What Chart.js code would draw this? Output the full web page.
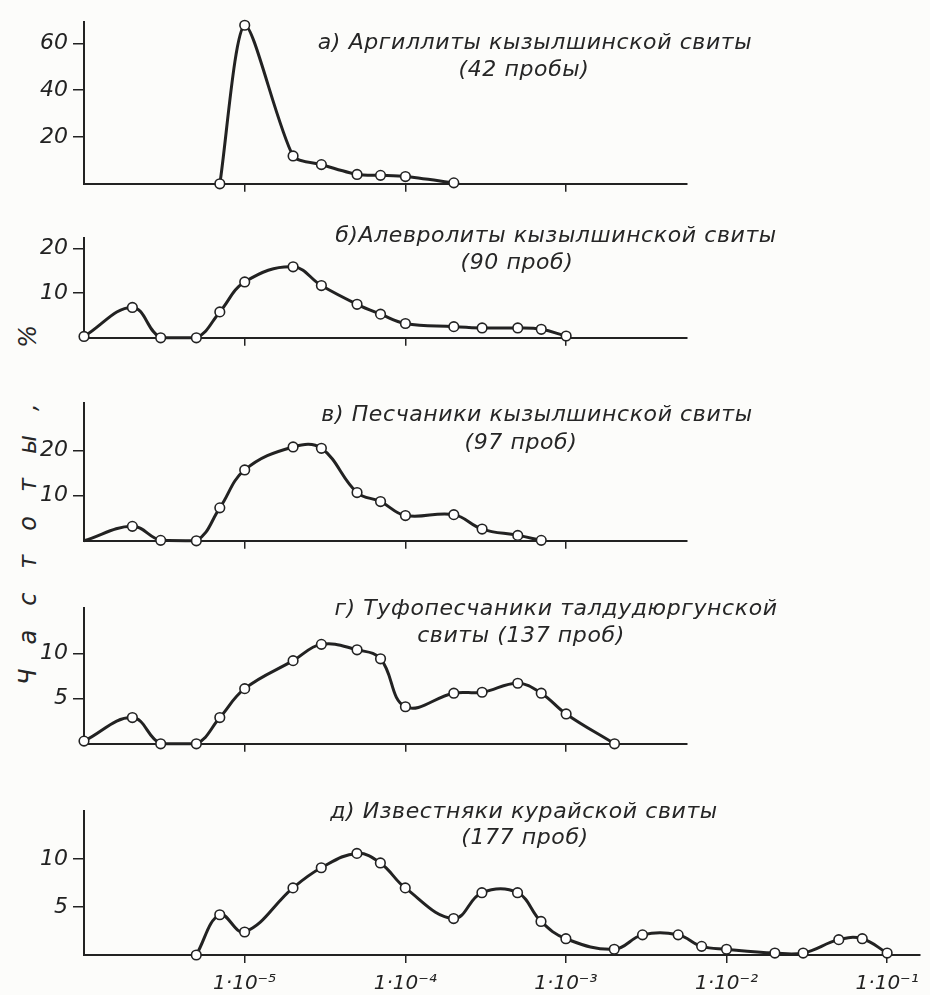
<!DOCTYPE html>
<html lang="ru">
<head>
<meta charset="utf-8" />
<title>Частоты распределения</title>
<script src="https://cdn.jsdelivr.net/npm/chart.js@4.4.0/dist/chart.umd.min.js"></script>
<style>
  html, body { margin: 0; padding: 0; background: #fcfcfa; }
  #page {
    position: relative; width: 930px; height: 995px; overflow: hidden;
    font-family: "DejaVu Sans", sans-serif; font-style: italic; color: #262626;
  }
  canvas { position: absolute; left: 0; }
  .ttl {
    position: absolute; white-space: nowrap; transform: translate(-50%, -50%);
    font-size: 22px; letter-spacing: 0.6px;
  }
  #ylab {
    position: absolute; left: 28px; top: 493px; white-space: nowrap;
    transform: translate(-50%, -50%) rotate(-90deg);
    font-size: 24px; letter-spacing: 24px;
  }
</style>
</head>
<body>
<div id="page">
  <div id="ylab">Частоты, %</div>
</div>

<script>
  // grain sizes (x, log axis) and frequencies in % for each panel
  const sizesA = [7e-6, 1e-5, 2e-5, 3e-5, 5e-5, 7e-5, 1e-4, 2e-4];
  const freqA  = [0, 67.7, 11.9, 8.2, 4.0, 3.6, 3.1, 0.4];

  const sizesB = [1e-6, 2e-6, 3e-6, 5e-6, 7e-6, 1e-5, 2e-5, 3e-5, 5e-5, 7e-5, 1e-4, 2e-4, 3e-4, 5e-4, 7e-4, 1e-3];
  const freqB  = [0.3, 6.8, 0, 0, 5.8, 12.5, 15.9, 11.7, 7.5, 5.3, 3.2, 2.5, 2.2, 2.2, 1.9, 0.4];

  const sizesV = [1e-6, 2e-6, 3e-6, 5e-6, 7e-6, 1e-5, 2e-5, 3e-5, 5e-5, 7e-5, 1e-4, 2e-4, 3e-4, 5e-4, 7e-4];
  const freqV  = [0, 3.2, 0.1, 0, 7.3, 15.7, 20.8, 20.5, 10.7, 8.7, 5.6, 5.8, 2.6, 1.2, 0.1];

  const sizesG = [1e-6, 2e-6, 3e-6, 5e-6, 7e-6, 1e-5, 2e-5, 3e-5, 5e-5, 7e-5, 1e-4, 2e-4, 3e-4, 5e-4, 7e-4, 1e-3, 2e-3];
  const freqG  = [0.3, 2.9, 0, 0, 2.9, 6.1, 9.2, 11.0, 10.4, 9.4, 4.1, 5.6, 5.7, 6.7, 5.6, 3.3, 0];

  const sizesD = [5e-6, 7e-6, 1e-5, 2e-5, 3e-5, 5e-5, 7e-5, 1e-4, 2e-4, 3e-4, 5e-4, 7e-4, 1e-3, 2e-3, 3e-3, 5e-3, 7e-3, 1e-2, 2e-2, 3e-2, 5e-2, 7e-2, 1e-1];
  const freqD  = [0, 4.2, 2.4, 7.0, 9.1, 10.6, 9.6, 7.0, 3.8, 6.5, 6.5, 3.5, 1.7, 0.6, 2.1, 2.1, 0.9, 0.6, 0.2, 0.2, 1.6, 1.7, 0.2];

  const xTickValues = [1e-5, 1e-4, 1e-3, 1e-2, 1e-1];
  const xTickLabels = ['1·10⁻⁵', '1·10⁻⁴', '1·10⁻³', '1·10⁻²', '1·10⁻¹'];

  const yTicksA = [20, 40, 60];
  const yTicksB = [10, 20];
  const yTicksV = [10, 20];
  const yTicksG = [5, 10];
  const yTicksD = [5, 10];

  const titlesA = ['а) Аргиллиты кызылшинской свиты', '(42 пробы)'];
  const titlesB = ['б)Алевролиты кызылшинской свиты', '(90 проб)'];
  const titlesV = ['в) Песчаники кызылшинской свиты', '(97 проб)'];
  const titlesG = ['г) Туфопесчаники талдудюргунской', 'свиты (137 проб)'];
  const titlesD = ['д) Известняки курайской свиты', '(177 проб)'];

  const INK = '#222';
  const FONT = '"DejaVu Sans", sans-serif';
  const page = document.getElementById('page');

  // layout of every panel: canvas top, size, axis ranges, title placement
  const panels = [
    { sizes: sizesA, freq: freqA, yTicks: yTicksA, yMax: 69,   xMax: 5.65e-3, top: 4,   w: 699, h: 198, xH: 10, tension: 0.25, titles: titlesA, tpos: [[535, 41], [524, 68]] },
    { sizes: sizesB, freq: freqB, yTicks: yTicksB, yMax: 22.3, xMax: 5.65e-3, top: 220, w: 699, h: 136, xH: 10, titles: titlesB, tpos: [[556, 234], [517, 261]] },
    { sizes: sizesV, freq: freqV, yTicks: yTicksV, yMax: 30.5, xMax: 5.65e-3, top: 385, w: 699, h: 174, xH: 10, titles: titlesV, tpos: [[537, 413], [521, 441]], hideFirst: true },
    { sizes: sizesG, freq: freqG, yTicks: yTicksG, yMax: 15,   xMax: 5.65e-3, top: 590, w: 699, h: 172, xH: 10, titles: titlesG, tpos: [[556, 607], [521, 634]] },
    { sizes: sizesD, freq: freqD, yTicks: yTicksD, yMax: 15,   xMax: 0.159,   top: 793, w: 928, h: 202, xH: 40, titles: titlesD, tpos: [[524, 810], [525, 836]], showX: true }
  ];

  function drawPanel(p) {
    const cv = document.createElement('canvas');
    cv.width = p.w;
    cv.height = p.h;
    cv.style.top = p.top + 'px';
    page.appendChild(cv);

    new Chart(cv, {
      type: 'line',
      data: {
        datasets: [{
          data: p.sizes.map((s, i) => ({ x: s, y: p.freq[i] })),
          borderColor: INK,
          borderWidth: 3,
          tension: p.tension || 0.4,
          pointRadius: (c) => (p.hideFirst && c.dataIndex === 0 ? 0 : 4.8),
          pointBackgroundColor: '#fff',
          pointBorderColor: INK,
          pointBorderWidth: 1.6,
          clip: false
        }]
      },
      options: {
        responsive: false,
        animation: false,
        devicePixelRatio: 1,
        events: [],
        layout: { padding: { top: 12, right: p.w - (p.showX ? 920 : 687), left: 0, bottom: 0 } },
        plugins: { legend: { display: false }, tooltip: { enabled: false } },
        scales: {
          x: {
            type: 'logarithmic',
            min: 1e-6,
            max: p.xMax,
            afterBuildTicks: (s) => { s.ticks = xTickValues.filter(v => v <= p.xMax).map(v => ({ value: v })); },
            afterFit: (s) => { s.height = p.xH; },
            border: { color: INK, width: 2 },
            grid: { drawOnChartArea: false, tickLength: 8, color: INK, lineWidth: 1.5 },
            ticks: {
              display: !!p.showX, autoSkip: false, maxRotation: 0, padding: 9, color: INK,
              font: { family: FONT, style: 'italic', size: 20 },
              callback: (v, i) => xTickLabels[i]
            }
          },
          y: {
            min: 0,
            max: p.yMax,
            afterBuildTicks: (s) => { s.ticks = p.yTicks.map(v => ({ value: v })); },
            afterFit: (s) => { s.width = 84; },
            border: { color: INK, width: 2 },
            grid: { drawOnChartArea: false, tickLength: 11, color: INK, lineWidth: 1.5 },
            ticks: { padding: 5, color: INK, font: { family: FONT, style: 'italic', size: 22 } }
          }
        }
      }
    });

    p.titles.forEach((t, i) => {
      const d = document.createElement('div');
      d.className = 'ttl';
      d.textContent = t;
      d.style.left = p.tpos[i][0] + 'px';
      d.style.top = p.tpos[i][1] + 'px';
      page.appendChild(d);
    });
  }

  panels.forEach(drawPanel);
</script>
</body>
</html>
